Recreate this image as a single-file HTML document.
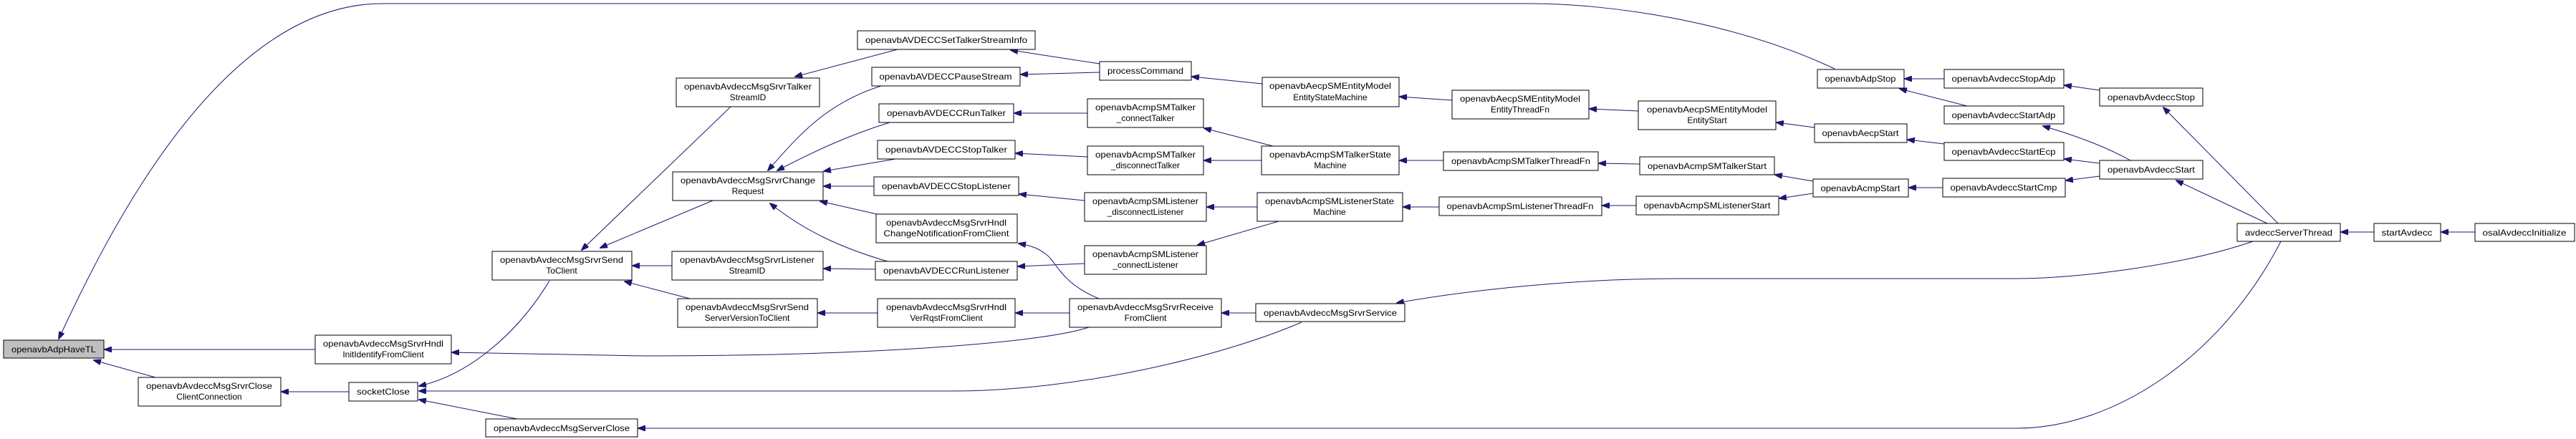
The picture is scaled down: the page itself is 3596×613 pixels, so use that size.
<!DOCTYPE html>
<html><head><meta charset="utf-8"><style>
html,body{margin:0;padding:0;background:#fff;}
svg{display:block;}
text{font-family:"Liberation Sans",sans-serif;font-size:12px;fill:#000;}
rect{fill:#fff;stroke:#000;stroke-width:1;}
path.e{fill:none;stroke:#191970;stroke-width:1;}
</style></head><body>
<svg width="3596" height="613" viewBox="0 0 3596 613" xmlns="http://www.w3.org/2000/svg">
<defs><marker id="a" markerWidth="11" markerHeight="8" refX="10" refY="4" orient="auto" markerUnits="userSpaceOnUse"><path d="M0,0 L11,4 L0,8 z" fill="#191970" stroke="#191970"/></marker></defs>
<g marker-end="url(#a)">
<path class="e" d="M2561,96 C2420,30 2250,5 2133,5 L534,5 C300,5 140,350 82,473"/>
<path class="e" d="M440,488 L146,488"/>
<path class="e" d="M217,527 L131,503"/>
<path class="e" d="M487,547 L393,547"/>
<path class="e" d="M767,392 C720,470 650,525 585,539"/>
<path class="e" d="M1817,450 C1700,500 1500,546 1330,546 L585,546"/>
<path class="e" d="M722,585 L585,558"/>
<path class="e" d="M3184,337 C3100,500 2950,598 2815,598 L891,598"/>
<path class="e" d="M1520,457 C1450,480 1200,497 900,497 L631,492"/>
<path class="e" d="M3145,337 C3050,370 2900,389 2815,389 L2345,389 C2200,389 2050,405 1950,423"/>
<path class="e" d="M1753,437 L1706,437"/>
<path class="e" d="M1493,437 L1418,437"/>
<path class="e" d="M1225,437 L1142,437"/>
<path class="e" d="M963,417 L872,393"/>
<path class="e" d="M938,371 L883,371"/>
<path class="e" d="M995,280 L838,346"/>
<path class="e" d="M1020,149 L812,349"/>
<path class="e" d="M1534,417 C1480,395 1475,365 1460,355 C1450,347 1440,343 1422,340"/>
<path class="e" d="M1253,69 L1110,107"/>
<path class="e" d="M1535,89 L1411,70"/>
<path class="e" d="M1535,101 L1425,104"/>
<path class="e" d="M1762,117 L1664,107"/>
<path class="e" d="M2027,140 L1954,135"/>
<path class="e" d="M2287,155 L2219,152"/>
<path class="e" d="M2533,178 L2480,171"/>
<path class="e" d="M2714,201 L2663,195"/>
<path class="e" d="M2714,110 L2659,110"/>
<path class="e" d="M2746,148 L2652,124"/>
<path class="e" d="M2931,126 L2882,119"/>
<path class="e" d="M2974,224 C2940,205 2900,190 2852,176"/>
<path class="e" d="M2931,228 L2882,222"/>
<path class="e" d="M2931,246 L2884,252"/>
<path class="e" d="M3180,312 L3020,150"/>
<path class="e" d="M3165,312 L3038,252"/>
<path class="e" d="M3314,324 L3268,324"/>
<path class="e" d="M3455,324 L3408,324"/>
<path class="e" d="M2712,262 L2665,262"/>
<path class="e" d="M2531,253 L2478,244"/>
<path class="e" d="M2531,270 L2484,277"/>
<path class="e" d="M2289,229 L2232,228"/>
<path class="e" d="M2015,224 L1954,224"/>
<path class="e" d="M2284,287 L2237,287"/>
<path class="e" d="M2009,289 L1959,289"/>
<path class="e" d="M1777,204 L1681,179"/>
<path class="e" d="M1761,224 L1681,224"/>
<path class="e" d="M1755,289 L1685,289"/>
<path class="e" d="M1785,309 L1672,342"/>
<path class="e" d="M1518,158 L1416,158"/>
<path class="e" d="M1518,219 L1418,214"/>
<path class="e" d="M1514,280 L1423,271"/>
<path class="e" d="M1514,368 L1421,372"/>
<path class="e" d="M1230,120 C1150,145 1110,195 1072,238"/>
<path class="e" d="M1242,171 C1180,190 1130,215 1085,238"/>
<path class="e" d="M1250,222 L1150,239"/>
<path class="e" d="M1220,260 L1150,260"/>
<path class="e" d="M1224,299 L1145,281"/>
<path class="e" d="M1239,365 C1170,345 1120,320 1075,284"/>
<path class="e" d="M1222,376 L1150,375"/>
</g>

<rect x="5" y="475" width="140" height="25" style="fill:#bfbfbf"/><text x="75" y="492" text-anchor="middle" textLength="118" lengthAdjust="spacingAndGlyphs">openavbAdpHaveTL</text>

<rect x="687" y="351" width="195" height="40"/><text x="784" y="367" text-anchor="middle" textLength="172" lengthAdjust="spacingAndGlyphs">openavbAvdeccMsgSrvrSend</text><text x="784" y="382" text-anchor="middle">ToClient</text>
<rect x="440" y="468" width="190" height="40"/><text x="535" y="484" text-anchor="middle" textLength="168" lengthAdjust="spacingAndGlyphs">openavbAvdeccMsgSrvrHndl</text><text x="535" y="499" text-anchor="middle">InitIdentifyFromClient</text>
<rect x="193" y="527" width="199" height="40"/><text x="292" y="543" text-anchor="middle" textLength="176" lengthAdjust="spacingAndGlyphs">openavbAvdeccMsgSrvrClose</text><text x="292" y="558" text-anchor="middle">ClientConnection</text>
<rect x="487" y="534" width="96" height="26"/><text x="535" y="551" text-anchor="middle" textLength="74" lengthAdjust="spacingAndGlyphs">socketClose</text>
<rect x="678" y="585" width="212" height="25"/><text x="784" y="602" text-anchor="middle" textLength="190" lengthAdjust="spacingAndGlyphs">openavbAvdeccMsgServerClose</text>

<rect x="1197" y="43" width="248" height="26"/><text x="1321" y="60" text-anchor="middle" textLength="226" lengthAdjust="spacingAndGlyphs">openavbAVDECCSetTalkerStreamInfo</text>
<rect x="944" y="109" width="200" height="40"/><text x="1044" y="125" text-anchor="middle" textLength="178" lengthAdjust="spacingAndGlyphs">openavbAvdeccMsgSrvrTalker</text><text x="1044" y="140" text-anchor="middle">StreamID</text>
<rect x="1217" y="94" width="207" height="26"/><text x="1320" y="111" text-anchor="middle" textLength="185" lengthAdjust="spacingAndGlyphs">openavbAVDECCPauseStream</text>
<rect x="1535" y="86" width="128" height="26"/><text x="1599" y="103" text-anchor="middle" textLength="106" lengthAdjust="spacingAndGlyphs">processCommand</text>
<rect x="1227" y="145" width="188" height="26"/><text x="1321" y="162" text-anchor="middle" textLength="166" lengthAdjust="spacingAndGlyphs">openavbAVDECCRunTalker</text>
<rect x="1518" y="138" width="162" height="40"/><text x="1599" y="154" text-anchor="middle" textLength="140" lengthAdjust="spacingAndGlyphs">openavbAcmpSMTalker</text><text x="1599" y="169" text-anchor="middle">_connectTalker</text>
<rect x="1225" y="196" width="192" height="26"/><text x="1321" y="213" text-anchor="middle" textLength="170" lengthAdjust="spacingAndGlyphs">openavbAVDECCStopTalker</text>
<rect x="1518" y="204" width="162" height="40"/><text x="1599" y="220" text-anchor="middle" textLength="140" lengthAdjust="spacingAndGlyphs">openavbAcmpSMTalker</text><text x="1599" y="235" text-anchor="middle">_disconnectTalker</text>
<rect x="939" y="240" width="210" height="40"/><text x="1044" y="256" text-anchor="middle" textLength="188" lengthAdjust="spacingAndGlyphs">openavbAvdeccMsgSrvrChange</text><text x="1044" y="271" text-anchor="middle">Request</text>
<rect x="1220" y="247" width="202" height="26"/><text x="1321" y="264" text-anchor="middle" textLength="180" lengthAdjust="spacingAndGlyphs">openavbAVDECCStopListener</text>
<rect x="1514" y="269" width="170" height="40"/><text x="1599" y="285" text-anchor="middle" textLength="148" lengthAdjust="spacingAndGlyphs">openavbAcmpSMListener</text><text x="1599" y="300" text-anchor="middle">_disconnectListener</text>
<rect x="1223" y="299" width="197" height="40"/><text x="1321" y="315" text-anchor="middle" textLength="168" lengthAdjust="spacingAndGlyphs">openavbAvdeccMsgSrvrHndl</text><text x="1321" y="330" text-anchor="middle" textLength="175" lengthAdjust="spacingAndGlyphs">ChangeNotificationFromClient</text>
<rect x="1514" y="343" width="170" height="40"/><text x="1599" y="359" text-anchor="middle" textLength="148" lengthAdjust="spacingAndGlyphs">openavbAcmpSMListener</text><text x="1599" y="374" text-anchor="middle">_connectListener</text>
<rect x="938" y="351" width="211" height="40"/><text x="1043" y="367" text-anchor="middle" textLength="188" lengthAdjust="spacingAndGlyphs">openavbAvdeccMsgSrvrListener</text><text x="1043" y="382" text-anchor="middle">StreamID</text>
<rect x="1222" y="365" width="198" height="26"/><text x="1321" y="382" text-anchor="middle" textLength="176" lengthAdjust="spacingAndGlyphs">openavbAVDECCRunListener</text>
<rect x="946" y="417" width="195" height="40"/><text x="1043" y="433" text-anchor="middle" textLength="172" lengthAdjust="spacingAndGlyphs">openavbAvdeccMsgSrvrSend</text><text x="1043" y="448" text-anchor="middle">ServerVersionToClient</text>
<rect x="1225" y="417" width="192" height="40"/><text x="1321" y="433" text-anchor="middle" textLength="168" lengthAdjust="spacingAndGlyphs">openavbAvdeccMsgSrvrHndl</text><text x="1321" y="448" text-anchor="middle">VerRqstFromClient</text>
<rect x="1493" y="417" width="212" height="40"/><text x="1599" y="433" text-anchor="middle" textLength="190" lengthAdjust="spacingAndGlyphs">openavbAvdeccMsgSrvrReceive</text><text x="1599" y="448" text-anchor="middle">FromClient</text>

<rect x="1762" y="108" width="191" height="41"/><text x="1857" y="124" text-anchor="middle" textLength="170" lengthAdjust="spacingAndGlyphs">openavbAecpSMEntityModel</text><text x="1857" y="140" text-anchor="middle">EntityStateMachine</text>
<rect x="2027" y="126" width="191" height="40"/><text x="2122" y="142" text-anchor="middle" textLength="168" lengthAdjust="spacingAndGlyphs">openavbAecpSMEntityModel</text><text x="2122" y="157" text-anchor="middle">EntityThreadFn</text>
<rect x="2287" y="141" width="192" height="40"/><text x="2383" y="157" text-anchor="middle" textLength="168" lengthAdjust="spacingAndGlyphs">openavbAecpSMEntityModel</text><text x="2383" y="172" text-anchor="middle">EntityStart</text>
<rect x="2537" y="97" width="121" height="26"/><text x="2597" y="114" text-anchor="middle" textLength="99" lengthAdjust="spacingAndGlyphs">openavbAdpStop</text>
<rect x="2533" y="173" width="129" height="26"/><text x="2597" y="190" text-anchor="middle" textLength="107" lengthAdjust="spacingAndGlyphs">openavbAecpStart</text>
<rect x="1761" y="204" width="192" height="40"/><text x="1857" y="220" text-anchor="middle" textLength="170" lengthAdjust="spacingAndGlyphs">openavbAcmpSMTalkerState</text><text x="1857" y="235" text-anchor="middle">Machine</text>
<rect x="2015" y="212" width="216" height="26"/><text x="2123" y="229" text-anchor="middle" textLength="194" lengthAdjust="spacingAndGlyphs">openavbAcmpSMTalkerThreadFn</text>
<rect x="2289" y="219" width="188" height="25"/><text x="2383" y="236" text-anchor="middle" textLength="166" lengthAdjust="spacingAndGlyphs">openavbAcmpSMTalkerStart</text>
<rect x="2531" y="250" width="133" height="25"/><text x="2597" y="267" text-anchor="middle" textLength="111" lengthAdjust="spacingAndGlyphs">openavbAcmpStart</text>
<rect x="1755" y="269" width="203" height="40"/><text x="1856" y="285" text-anchor="middle" textLength="180" lengthAdjust="spacingAndGlyphs">openavbAcmpSMListenerState</text><text x="1856" y="300" text-anchor="middle">Machine</text>
<rect x="2009" y="275" width="227" height="26"/><text x="2122" y="292" text-anchor="middle" textLength="205" lengthAdjust="spacingAndGlyphs">openavbAcmpSmListenerThreadFn</text>
<rect x="2284" y="274" width="199" height="26"/><text x="2383" y="291" text-anchor="middle" textLength="177" lengthAdjust="spacingAndGlyphs">openavbAcmpSMListenerStart</text>
<rect x="1753" y="424" width="208" height="25"/><text x="1857" y="441" text-anchor="middle" textLength="186" lengthAdjust="spacingAndGlyphs">openavbAvdeccMsgSrvrService</text>

<rect x="2714" y="97" width="167" height="26"/><text x="2797" y="114" text-anchor="middle" textLength="145" lengthAdjust="spacingAndGlyphs">openavbAvdeccStopAdp</text>
<rect x="2714" y="148" width="167" height="25"/><text x="2797" y="165" text-anchor="middle" textLength="145" lengthAdjust="spacingAndGlyphs">openavbAvdeccStartAdp</text>
<rect x="2714" y="199" width="167" height="25"/><text x="2797" y="216" text-anchor="middle" textLength="145" lengthAdjust="spacingAndGlyphs">openavbAvdeccStartEcp</text>
<rect x="2712" y="249" width="171" height="26"/><text x="2797" y="266" text-anchor="middle" textLength="149" lengthAdjust="spacingAndGlyphs">openavbAvdeccStartCmp</text>
<rect x="2931" y="123" width="144" height="25"/><text x="3003" y="140" text-anchor="middle" textLength="122" lengthAdjust="spacingAndGlyphs">openavbAvdeccStop</text>
<rect x="2931" y="224" width="144" height="26"/><text x="3003" y="241" text-anchor="middle" textLength="122" lengthAdjust="spacingAndGlyphs">openavbAvdeccStart</text>
<rect x="3123" y="312" width="144" height="25"/><text x="3195" y="329" text-anchor="middle" textLength="122" lengthAdjust="spacingAndGlyphs">avdeccServerThread</text>
<rect x="3314" y="312" width="93" height="25"/><text x="3360" y="329" text-anchor="middle" textLength="71" lengthAdjust="spacingAndGlyphs">startAvdecc</text>
<rect x="3455" y="312" width="139" height="25"/><text x="3524" y="329" text-anchor="middle" textLength="117" lengthAdjust="spacingAndGlyphs">osalAvdeccInitialize</text>
</svg>
</body></html>
